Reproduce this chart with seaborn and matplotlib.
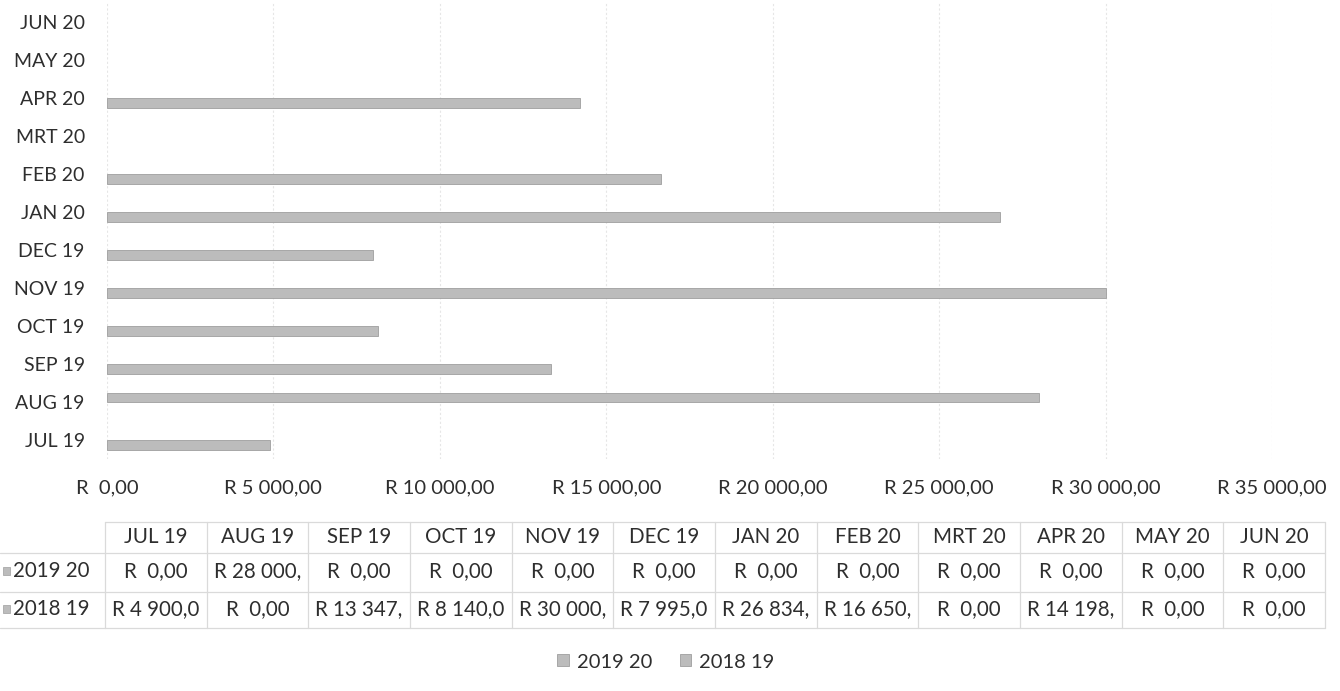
import pandas as pd
import matplotlib.pyplot as plt
from matplotlib.patches import Patch
import seaborn as sns

months = ["JUL 19", "AUG 19", "SEP 19", "OCT 19", "NOV 19", "DEC 19",
          "JAN 20", "FEB 20", "MRT 20", "APR 20", "MAY 20", "JUN 20"]
series = ["2019 20", "2018 19"]
vals_1920 = [0, 28000, 0, 0, 0, 0, 0, 0, 0, 0, 0, 0]
vals_1819 = [4900, 0, 13347, 8140, 30000, 7995, 26834, 16650, 0, 14198, 0, 0]
xticks = [0, 5000, 10000, 15000, 20000, 25000, 30000, 35000]


def rand(v):
    # Excel style "R 13 347,00"
    if v == 0:
        return "R  0,00"
    s = f"{v:,.2f}".replace(",", " ").replace(".", ",")
    return "R " + s


# Long format for seaborn
df = pd.DataFrame({
    "Month": months * 2,
    "Series": [series[0]] * 12 + [series[1]] * 12,
    "Amount": vals_1920 + vals_1819,
})

sns.set_theme(style="white")
plt.rcParams["font.family"] = ["Lato", "DejaVu Sans"]
txt = "#2e2e2e"
bar_col = "#bcbcbc"
edge_col = "#9e9e9e"
fs = 14
fs_tab = 14.8
W, H = 1340, 691

fig = plt.figure(figsize=(13.4, 6.91), dpi=100)
ax = fig.add_axes([107 / W, 1 - 459 / H, (1272 - 107) / W, 456 / H])

sns.barplot(data=df, y="Month", x="Amount", hue="Series",
            order=months[::-1], hue_order=series,
            palette=[bar_col, bar_col], width=0.5, orient="h",
            edgecolor=edge_col, linewidth=0.6, legend=False, ax=ax)

# zero-value bars should not leave an outline at the axis
for p in ax.patches:
    if p.get_width() == 0:
        p.set_visible(False)

ax.set_xlim(0, 35000)
ax.set_xticks(xticks)
ax.set_xticklabels([rand(t) for t in xticks])
ax.set_xlabel("")
ax.set_ylabel("")
ax.tick_params(axis="x", length=0, pad=15, labelsize=14.5, colors=txt)
ax.tick_params(axis="y", length=0, pad=16, labelsize=fs, colors=txt)
ax.grid(axis="x", color="#e6e6e6", lw=0.8, ls=(0, (2, 2)))
ax.set_axisbelow(True)
sns.despine(ax=ax, left=True, bottom=True)

# Legend at the bottom
handles = [Patch(facecolor=bar_col, edgecolor=edge_col, lw=0.6) for _ in series]
ax.legend(handles, series, loc="center", ncol=2, frameon=False,
          bbox_to_anchor=(666 / W, 1 - 662 / H), bbox_transform=fig.transFigure,
          handlelength=0.55, handleheight=0.55, handletextpad=0.4,
          columnspacing=1.4, fontsize=14.5, labelcolor=txt)

# Data table under the chart
col0, colw = 105, (1325 - 105) / 12
row_lines = [522, 553, 592, 628]
row_mid = [537, 571, 609]
line_kw = dict(color="#dadada", lw=0.9, transform=fig.transFigure)


def fx(px):
    return px / W


def fy(py):
    return 1 - py / H


# horizontal lines
fig.add_artist(plt.Line2D([fx(col0), fx(1325)], [fy(row_lines[0])] * 2, **line_kw))
for y in row_lines[1:]:
    fig.add_artist(plt.Line2D([fx(0), fx(1325)], [fy(y)] * 2, **line_kw))
# vertical lines
for i in range(13):
    x = col0 + i * colw
    fig.add_artist(plt.Line2D([fx(x)] * 2, [fy(row_lines[0]), fy(row_lines[-1])], **line_kw))

for i, m in enumerate(months):
    cx = fx(col0 + (i + 0.5) * colw)
    fig.text(cx, fy(row_mid[0]), m, ha="center", va="center", fontsize=fs_tab, color=txt)
    for r, vals in enumerate([vals_1920, vals_1819]):
        fig.text(cx, fy(row_mid[r + 1]), rand(vals[i])[:9], ha="center",
                 va="center", fontsize=fs_tab, color=txt)

for r, s in enumerate(series):
    y = fy(row_mid[r + 1])
    fig.add_artist(plt.Rectangle((fx(3), y - 4 / H), 7 / W, 8 / H, transform=fig.transFigure,
                                 facecolor=bar_col, edgecolor=edge_col, lw=0.5))
    fig.text(fx(13), y, s, ha="left", va="center", fontsize=fs_tab, color=txt)

fig.savefig("out.png", dpi=100)
